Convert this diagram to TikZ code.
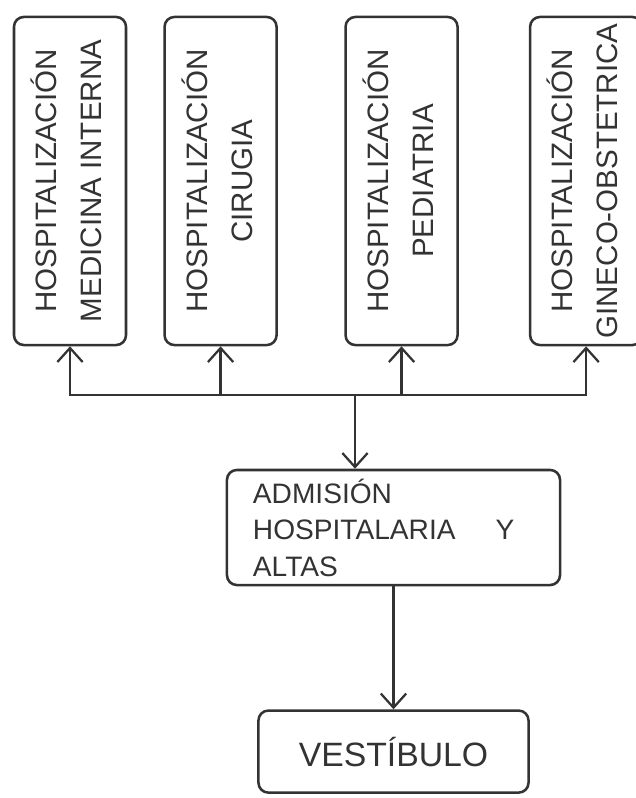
\documentclass[tikz,border=0pt]{standalone}
\usepackage{fontspec}
\setmainfont{Liberation Sans}
\usepackage{graphicx}
\usepackage{xcolor}
\usetikzlibrary{arrows.meta,positioning}

\definecolor{ink}{HTML}{333333}

\begin{document}
\begin{tikzpicture}[
  x=0.025cm, y=-0.025cm,
  box/.style={draw=ink, text=ink, rounded corners=7pt, line width=1.8pt, inner sep=0pt},
  ward/.style={box, minimum width=2.8cm, minimum height=8.2cm, font=\fontsize{21}{32}\selectfont},
  arr/.style={-{Straight Barb[length=10pt,width=18pt]}, line width=1.6pt, draw=ink}
]
  \useasboundingbox (0,0) rectangle (636,798);

  \node[ward] (medint) at (70,181) {\rotatebox{90}{\begin{tabular}{@{}c@{}}HOSPITALIZACIÓN\\MEDICINA INTERNA\end{tabular}}};
  \node[ward, right=0.9cm of medint] (cirugia) {\rotatebox{90}{\begin{tabular}{@{}c@{}}HOSPITALIZACIÓN\\CIRUGIA\end{tabular}}};
  \node[ward, right=1.66cm of cirugia] (pediat) {\rotatebox{90}{\begin{tabular}{@{}c@{}}HOSPITALIZACIÓN\\PEDIATRIA\end{tabular}}};
  \node[ward, right=1.75cm of pediat] (gineco) {\rotatebox{90}{\begin{tabular}{@{}c@{}}HOSPITALIZACIÓN\\GINECO-OBSTETRICA\end{tabular}}};

  \coordinate (hub) at (355,395);

  \node[box, minimum width=8.325cm, minimum height=2.875cm, inner xsep=0.65cm, text width=7.025cm, align=left,
        font=\fontsize{20}{26}\selectfont] (adm) at (393.5,527.5) {ADMISIÓN\\HOSPITALARIA\hspace{1cm}Y\\ALTAS};
  \node[box, below=3.075cm of adm, minimum width=6.75cm, minimum height=2.05cm,
        font=\fontsize{24}{28}\selectfont] (vest) {VESTÍBULO};

  \draw[arr] (hub) -| (medint);
  \draw[arr] (hub) -| (cirugia);
  \draw[arr] (hub) -| (pediat);
  \draw[arr] (hub) -| (gineco);
  \draw[arr] (hub) -- (hub |- adm.north);
  \draw[arr] (adm) -- (vest);
\end{tikzpicture}
\end{document}
